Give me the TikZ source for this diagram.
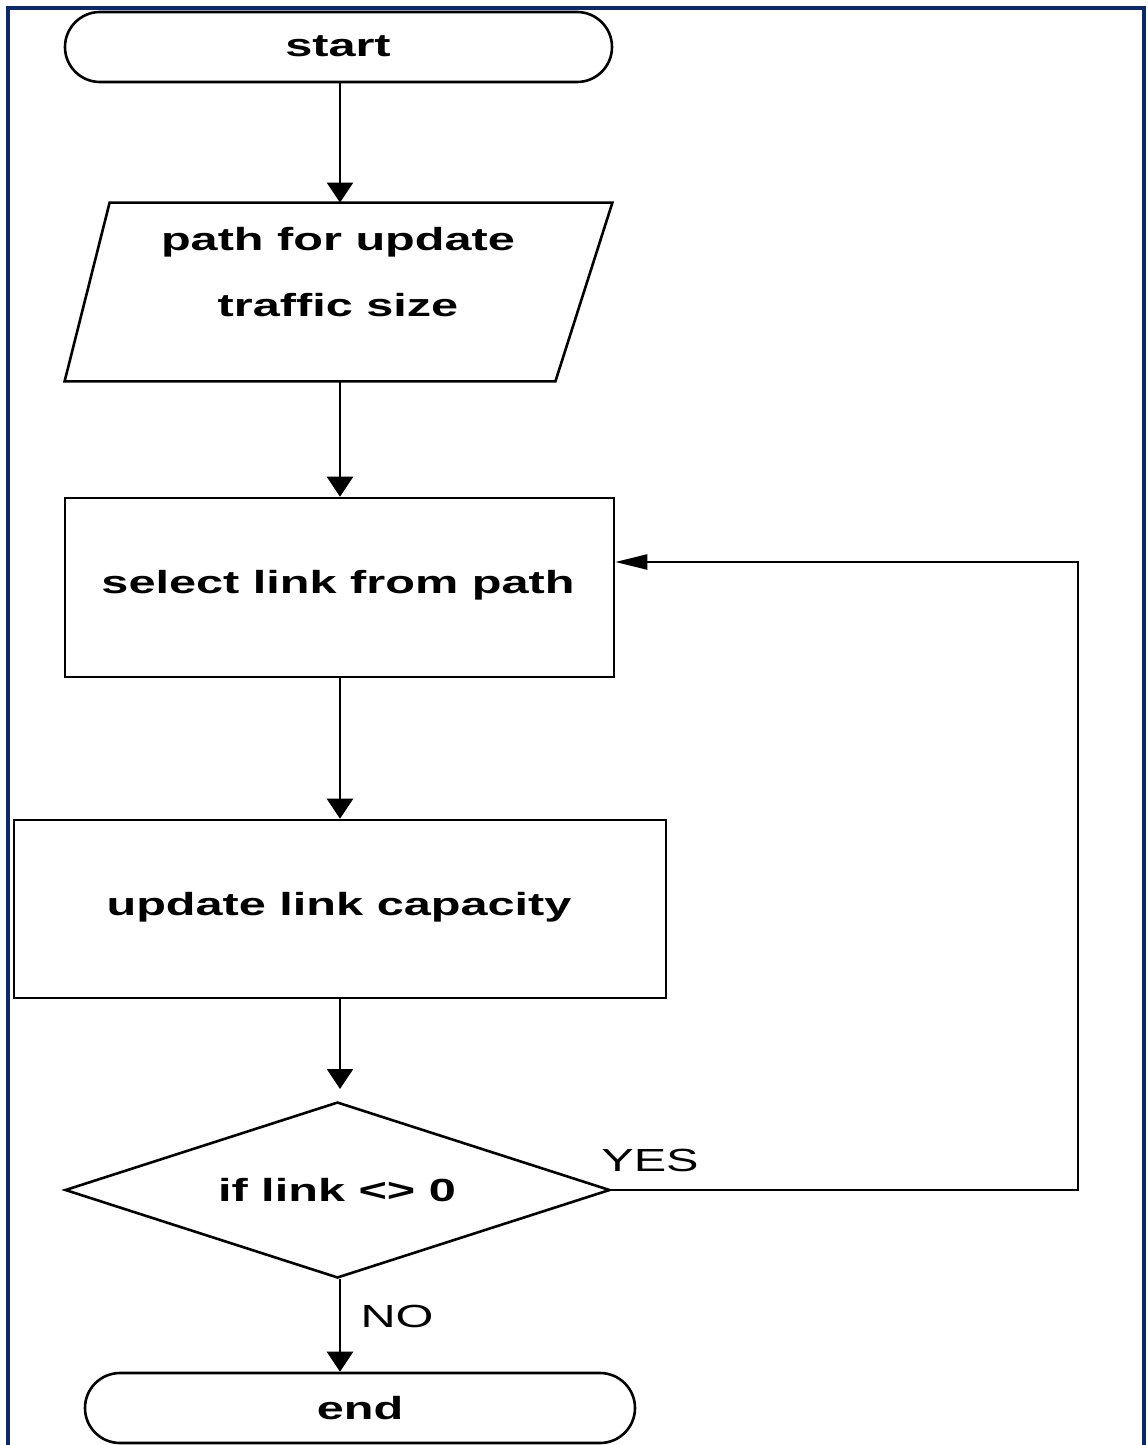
\documentclass[tikz,border=0pt]{standalone}
\usepackage{fontspec}
\setmainfont{Liberation Sans}[FakeStretch=1.52]
\usetikzlibrary{shapes.geometric,shapes.misc,arrows.meta}
\definecolor{framenavy}{HTML}{0B2A6C}
\begin{document}
\begin{tikzpicture}[x=0.5pt,y=-0.5pt,
  every node/.style={font=\fontsize{16}{19}\selectfont},
  shp/.style={draw=black,line width=1.3pt,inner sep=0pt,fill=white},
  term/.style={shp,rounded rectangle,minimum height=35pt},
  proc/.style={shp,rectangle},
  iobox/.style={rectangle,inner sep=0pt,minimum width=273.5pt,minimum height=89pt},
  decision/.style={shp,diamond,minimum width=272.5pt,minimum height=88pt},
  txt/.style={font=\fontsize{16}{19}\selectfont\bfseries,inner sep=0pt},
  lbl/.style={font=\fontsize{16}{19}\selectfont,inner sep=0pt},
  flow/.style={line width=1.3pt,-{Triangle[length=10pt,width=13pt]}},
  back/.style={line width=1.2pt,-{Triangle[length=16pt,width=7.5pt]}}]

% page and frame
\fill[white] (0,0) rectangle (1147,1445);
\useasboundingbox (0,0) rectangle (1147,1445);
\draw[framenavy,line width=2pt] (8,1446) -- (8,8) -- (1144,8) -- (1144,1446);

% shapes
\node[term,minimum width=273.5pt] (start) at (338.5,47) {};
\node[iobox] (input) at (338.5,292) {};
\draw[line width=1.3pt,line join=miter]
  (input.south west) -- ([xshift=22.5pt]input.north west) -- (input.north east)
  -- ([xshift=-28.5pt]input.south east) -- cycle;
\node[proc,minimum width=274.5pt,minimum height=89.5pt] (select) at (339.5,587.5) {};
\node[proc,minimum width=326pt,minimum height=89pt] (update) at (340,909) {};
\node[decision] (test) at (337.5,1190) {};
\node[term,minimum width=275pt] (stop) at (360,1408) {};

% texts
\node[txt] (tstart) at (338,46) {start};
\node[txt] (tin1) at (338,242) {path for update};
\node[txt] (tin2) at (338,305) {traffic size};
\node[txt] (tsel) at (338,585) {select link from path};
\node[txt] (tupd) at (339,907) {update link capacity};
\node[txt] (ttest) at (337,1190) {if link <> 0};
\node[txt] (tstop) at (360,1408) {end};

% connectors
\coordinate (col) at (340,0);
\draw[flow] (start.south -| col) -- (input.north -| col);
\draw[flow] (input.south -| col) -- (select.north -| col);
\draw[flow] (select.south -| col) -- (update.north -| col);
\coordinate (testin) at (340,1089);
\draw[flow] (update.south -| col) -- (testin);
\draw[flow] (test.south -| col) -- (stop.north -| col);
\coordinate (corner) at (1078,1190);
\coordinate (bend) at (1078,562);
\draw[back] (test.east) -- (corner) -- (bend) -- (bend -| select.east);

% branch labels
\node[lbl] (yes) at (650,1160) {YES};
\node[lbl] (no) at (397,1316) {NO};
\end{tikzpicture}
\end{document}
